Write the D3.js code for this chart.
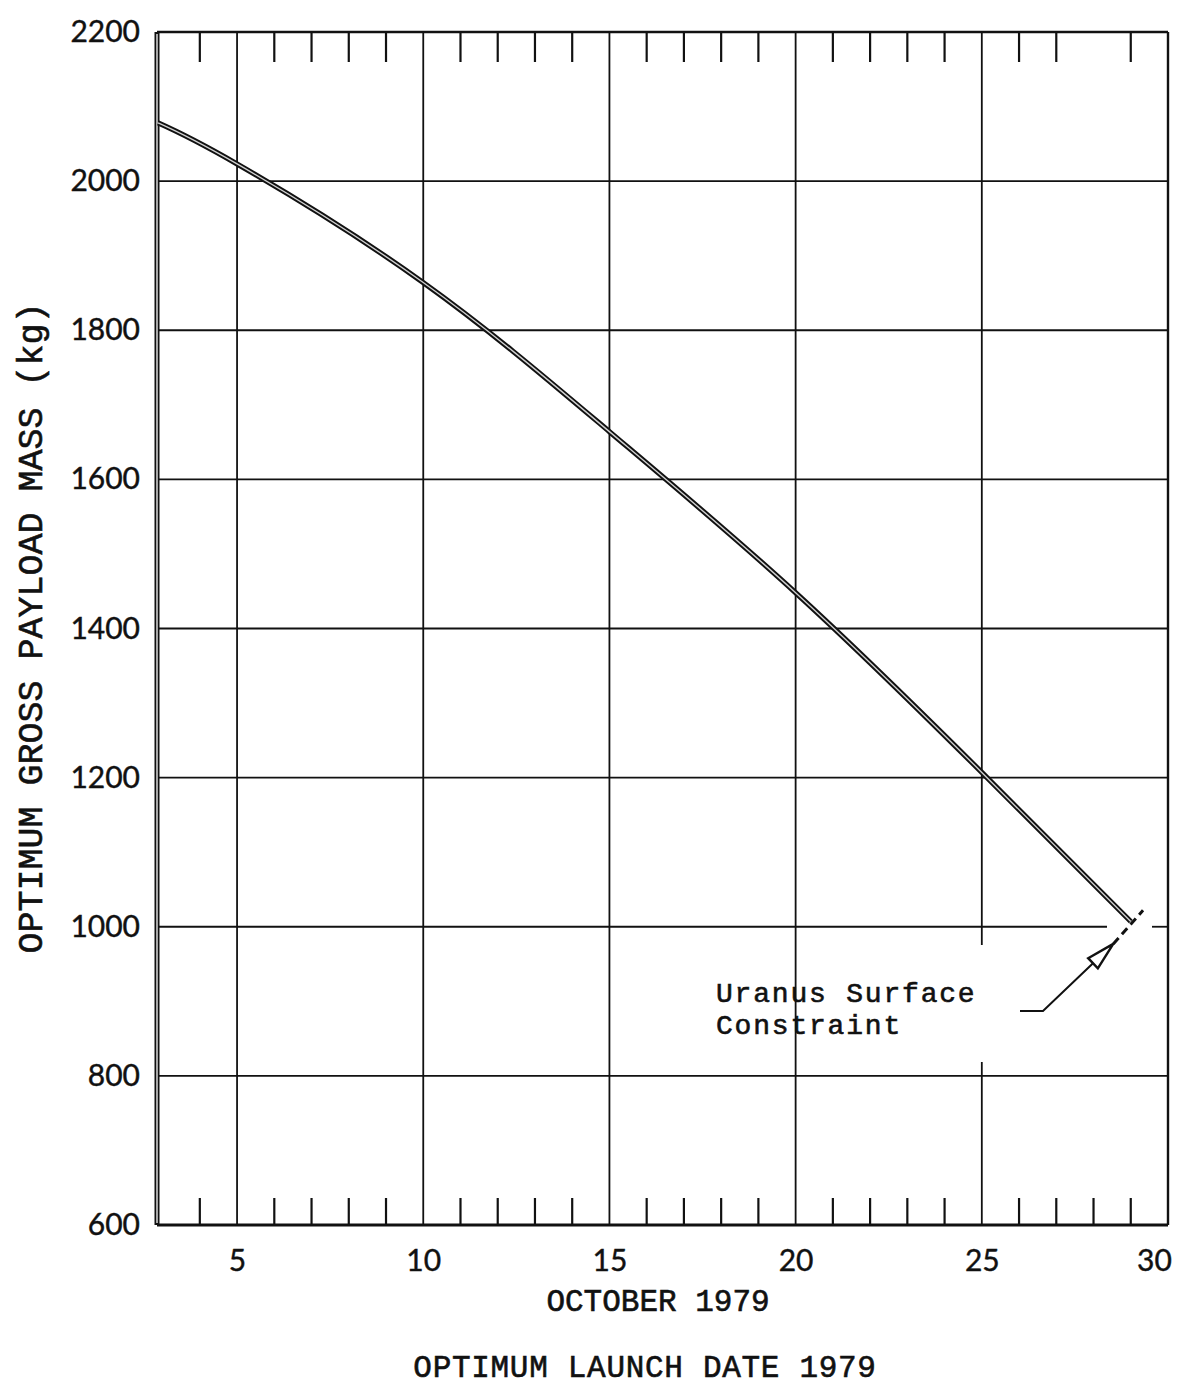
<!DOCTYPE html>
<html>
<head>
<meta charset="utf-8">
<script src="https://cdn.jsdelivr.net/npm/d3@7"></script>
<style>
  body { margin: 0; background: #fff; }
  .typewriter { font-family: "Liberation Mono", "Courier New", monospace; fill: #111; stroke: #111; stroke-width: 0.6px; }
  .num { font-family: Lato, "Open Sans", sans-serif; fill: #111; stroke: #111; stroke-width: 0.4px; }
</style>
</head>
<body>
<svg id="chart" width="1178" height="1387"></svg>
<script>
// Optimum gross payload mass versus launch date (October 1979)
const launchDay = [2.88, 5, 10, 15, 20, 25, 29];
const payloadKg = [2078, 2023, 1864, 1664, 1448, 1207, 1007];

const dayLabels = [5, 10, 15, 20, 25, 30];
const massTicks = [600, 800, 1000, 1200, 1400, 1600, 1800, 2000, 2200];
const gridDays = [5, 10, 15, 20, 25];
const gridMass = [800, 1000, 1200, 1400, 1600, 1800, 2000];
const topTickDays = [4, 6, 7, 8, 9, 11, 12, 13, 14, 16, 17, 18, 19, 21, 22, 23, 24, 26, 27, 29];
const bottomTickDays = [4, 6, 7, 8, 9, 11, 12, 13, 14, 16, 17, 18, 19, 21, 22, 23, 24, 26, 27, 28, 29];

// constraint marker (day, kg) endpoints
const constraintDays = [28.53, 29.33];
const constraintKg = [977, 1022];

const svg = d3.select("#chart");
const plotL = 157, plotR = 1168, plotT = 32, plotB = 1225;

const x = d3.scaleLinear().domain([2.85, 30]).range([plotL, plotR]);
const y = d3.scaleLinear().domain([600, 2200]).range([plotB, plotT]);

const ink = "#111";

// grid
const grid = svg.append("g").attr("stroke", ink).attr("stroke-width", 1.8);
gridDays.forEach(d => {
  if (d === 25) {
    // gap where the annotation text sits
    grid.append("line").attr("x1", x(d)).attr("x2", x(d)).attr("y1", plotT).attr("y2", 945);
    grid.append("line").attr("x1", x(d)).attr("x2", x(d)).attr("y1", 1062).attr("y2", plotB);
  } else {
    grid.append("line").attr("x1", x(d)).attr("x2", x(d)).attr("y1", plotT).attr("y2", plotB);
  }
});
gridMass.forEach(m => {
  if (m === 1000) {
    grid.append("line").attr("x1", plotL).attr("x2", 1107).attr("y1", y(m)).attr("y2", y(m));
    grid.append("line").attr("x1", 1152).attr("x2", plotR).attr("y1", y(m)).attr("y2", y(m));
  } else {
    grid.append("line").attr("x1", plotL).attr("x2", plotR).attr("y1", y(m)).attr("y2", y(m));
  }
});

// minor day ticks along top and bottom
const ticks = svg.append("g").attr("stroke", ink).attr("stroke-width", 2.2);
topTickDays.forEach(d => {
  ticks.append("line").attr("x1", x(d)).attr("x2", x(d)).attr("y1", plotT).attr("y2", plotT + 30);
});
bottomTickDays.forEach(d => {
  ticks.append("line").attr("x1", x(d)).attr("x2", x(d)).attr("y1", plotB).attr("y2", plotB - 27);
});

// frame
const frame = svg.append("g").attr("fill", "none").attr("stroke", ink);
frame.append("line").attr("x1", plotL).attr("x2", plotR).attr("y1", plotT).attr("y2", plotT).attr("stroke-width", 2.6);
frame.append("line").attr("x1", plotL).attr("x2", plotR).attr("y1", plotB).attr("y2", plotB).attr("stroke-width", 3);
frame.append("line").attr("x1", plotR).attr("x2", plotR).attr("y1", plotT).attr("y2", plotB).attr("stroke-width", 2.4);
// left edge drawn as a double line
frame.append("line").attr("x1", plotL).attr("x2", plotL).attr("y1", plotT).attr("y2", plotB).attr("stroke-width", 5);
frame.append("line").attr("x1", plotL).attr("x2", plotL).attr("y1", plotT + 2).attr("y2", plotB - 2)
  .attr("stroke", "#e8e8e8").attr("stroke-width", 1.4);

// payload curve, drawn as a double line
const pts = launchDay.map((d, i) => [d, payloadKg[i]]);
const line = d3.line().x(p => x(p[0])).y(p => y(p[1])).curve(d3.curveNatural);
svg.append("path").datum(pts).attr("d", line)
  .attr("fill", "none").attr("stroke", ink).attr("stroke-width", 5.2).attr("stroke-linecap", "butt");
svg.append("path").datum(pts).attr("d", line)
  .attr("fill", "none").attr("stroke", "#d0d0d0").attr("stroke-width", 1.4);

// axis labels
const yAxis = d3.axisLeft(y).tickValues(massTicks).tickSize(0).tickPadding(17).tickFormat(d3.format("d"));
const gy = svg.append("g").attr("transform", `translate(${plotL},0)`).call(yAxis);
gy.select(".domain").remove();
gy.attr("font-family", null).attr("font-size", null);
gy.selectAll("text").attr("class", "num").attr("font-size", 30).attr("fill", ink);

const xAxis = d3.axisBottom(x).tickValues(dayLabels).tickSize(0).tickPadding(25).tickFormat(d3.format("d"));
const gx = svg.append("g").attr("transform", `translate(0,${plotB})`).call(xAxis);
gx.select(".domain").remove();
gx.attr("font-family", null).attr("font-size", null);
gx.selectAll("text").attr("class", "num").attr("font-size", 30).attr("fill", ink)
  .attr("dx", d => d === 30 ? -14 : 0);

// titles
svg.append("text").attr("class", "typewriter").attr("font-size", 35)
  .attr("text-anchor", "middle")
  .attr("transform", "translate(42,628) rotate(-90)")
  .text("OPTIMUM GROSS PAYLOAD MASS (kg)");
svg.append("text").attr("class", "typewriter").attr("font-size", 31)
  .attr("text-anchor", "middle").attr("x", 658).attr("y", 1311)
  .text("OCTOBER 1979");
svg.append("text").attr("class", "typewriter").attr("font-size", 31)
  .attr("text-anchor", "middle").attr("x", 645).attr("y", 1377)
  .attr("letter-spacing", 0.7)
  .text("OPTIMUM LAUNCH DATE 1979");

// constraint annotation
const ann = svg.append("g");
ann.append("text").attr("class", "typewriter").attr("font-size", 28).attr("letter-spacing", 1.8)
  .attr("x", 716).attr("y", 1002).text("Uranus Surface");
ann.append("text").attr("class", "typewriter").attr("font-size", 28).attr("letter-spacing", 1.8)
  .attr("x", 716).attr("y", 1034).text("Constraint");

const cx0 = x(constraintDays[0]), cy0 = y(constraintKg[0]);
const cx1 = x(constraintDays[1]), cy1 = y(constraintKg[1]);
ann.append("line").attr("x1", cx0).attr("y1", cy0).attr("x2", cx1).attr("y2", cy1)
  .attr("stroke", ink).attr("stroke-width", 3).attr("stroke-dasharray", "8,5");

// leader with hollow arrowhead pointing at the marker
const tail = [1043, 1011];
const tip = [cx0, cy0];
const vx = tip[0] - tail[0], vy = tip[1] - tail[1];
const len = Math.hypot(vx, vy);
const ux = vx / len, uy = vy / len;
const bx = tip[0] - 28 * ux, by = tip[1] - 28 * uy;
const nx = -uy, ny = ux;
ann.append("path")
  .attr("d", d3.line()([[1020, 1011], tail, [bx, by]]))
  .attr("fill", "none").attr("stroke", ink).attr("stroke-width", 2);
ann.append("path")
  .attr("d", d3.line()([[bx + 7 * nx, by + 7 * ny], tip, [bx - 7 * nx, by - 7 * ny]]) + "Z")
  .attr("fill", "#fff").attr("stroke", ink).attr("stroke-width", 2.4).attr("stroke-linejoin", "miter");
</script>
</body>
</html>
